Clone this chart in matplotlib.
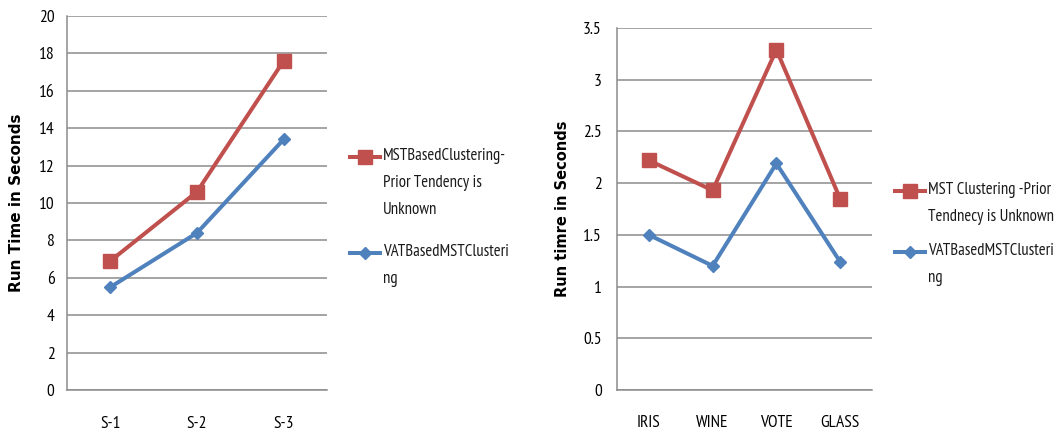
import matplotlib
matplotlib.use("Agg")
import matplotlib.pyplot as plt
from matplotlib.legend_handler import HandlerLine2D
from matplotlib.transforms import Affine2D

# left chart: synthetic data sets
sets = ["S-1", "S-2", "S-3"]
mst_sets = [6.9, 10.6, 17.6]
vat_sets = [5.5, 8.4, 13.4]

# right chart: UCI data sets
uci = ["IRIS", "WINE", "VOTE", "GLASS"]
mst_uci = [2.22, 1.93, 3.29, 1.85]
vat_uci = [1.50, 1.20, 2.19, 1.24]

RED = "#C0504D"
BLUE = "#4F81BD"
GRID = "#8C8C8C"

plt.rcParams["font.family"] = ["PT Sans Narrow", "Roboto Condensed",
                               "Liberation Sans Narrow", "Liberation Sans", "DejaVu Sans"]
plt.rcParams["text.color"] = "#1a1a1a"


class FirstLineHandler(HandlerLine2D):
    """Put the legend key next to the first text line, like Excel does."""

    def __init__(self, shift, **kw):
        super().__init__(**kw)
        self.shift = shift

    def create_artists(self, legend, orig_handle, xdescent, ydescent,
                       width, height, fontsize, trans):
        trans = Affine2D().translate(0, self.shift) + trans
        return super().create_artists(legend, orig_handle, xdescent, ydescent,
                                      width, height, fontsize, trans)


def style_axis(ax, ylim, step, ylabel, ysize, ypad, xpad):
    ax.set_ylim(*ylim)
    ax.set_yticks([round(i * step, 2) for i in range(int(round(ylim[1] / step)) + 1)])
    ax.yaxis.set_major_formatter(matplotlib.ticker.FormatStrFormatter("%g"))
    ax.grid(axis="y", color=GRID, linewidth=1.1)
    ax.set_axisbelow(True)
    for side in ("top", "right"):
        ax.spines[side].set_visible(False)
    for side in ("left", "bottom"):
        ax.spines[side].set_color(GRID)
        ax.spines[side].set_linewidth(1.1)
    ax.tick_params(axis="y", length=0, pad=ypad, labelsize=12.5)
    ax.tick_params(axis="x", length=0, pad=xpad, labelsize=12.5)
    ax.set_ylabel(ylabel, family="DejaVu Sans", fontweight="bold", fontsize=ysize)


fig = plt.figure(figsize=(10.64, 4.36), dpi=100)

ax1 = fig.add_axes([67 / 1064, 46 / 436, 260 / 1064, 374 / 436])
r1, = ax1.plot(sets, mst_sets, color=RED, lw=2.9, marker="s", ms=10.5)
b1, = ax1.plot(sets, vat_sets, color=BLUE, lw=2.9, marker="D", ms=6.5)
ax1.set_xlim(-0.5, 2.5)
style_axis(ax1, (0, 20), 2, "Run Time in Seconds", 11, 9, 19)
ax1.yaxis.set_label_coords(-0.165, 0.5)

ax2 = fig.add_axes([617 / 1064, 46 / 436, 255 / 1064, 362 / 436])
r2, = ax2.plot(uci, mst_uci, color=RED, lw=2.9, marker="s", ms=10.5)
b2, = ax2.plot(uci, vat_uci, color=BLUE, lw=2.9, marker="D", ms=6.5)
ax2.set_xlim(-0.5, 3.5)
style_axis(ax2, (0, 3.5), 0.5, "Run timre in Seconds", 10.5, 11, 18)
ax2.yaxis.set_label_coords(-0.184, 0.5)

pitch = 18.5  # points between wrapped legend lines

leg1 = fig.legend(
    [r1, b1],
    ["MSTBasedClustering-\nPrior Tendency is\nUnknown", "VATBasedMSTClusteri\nng"],
    loc="upper left", bbox_to_anchor=(350 / 1064, 1 - 148 / 436),
    frameon=False, fontsize=12, numpoints=1, handlelength=1.8,
    handletextpad=0.2, labelspacing=1.6, borderpad=0, borderaxespad=0,
    handler_map={r1: FirstLineHandler(pitch), b1: FirstLineHandler(pitch / 2)},
)
leg2 = fig.legend(
    [r2, b2],
    ["MST Clustering -Prior\nTendnecy is Unknown", "VATBasedMSTClusteri\nng"],
    loc="upper left", bbox_to_anchor=(895 / 1064, 1 - 182 / 436),
    frameon=False, fontsize=12, numpoints=1, handlelength=1.8,
    handletextpad=0.2, labelspacing=1.1, borderpad=0, borderaxespad=0,
    handler_map={r2: FirstLineHandler(pitch / 2), b2: FirstLineHandler(pitch / 2)},
)
for leg in (leg1, leg2):
    for t in leg.get_texts():
        t.set_linespacing(1.9)

fig.savefig("out.png", dpi=100)
